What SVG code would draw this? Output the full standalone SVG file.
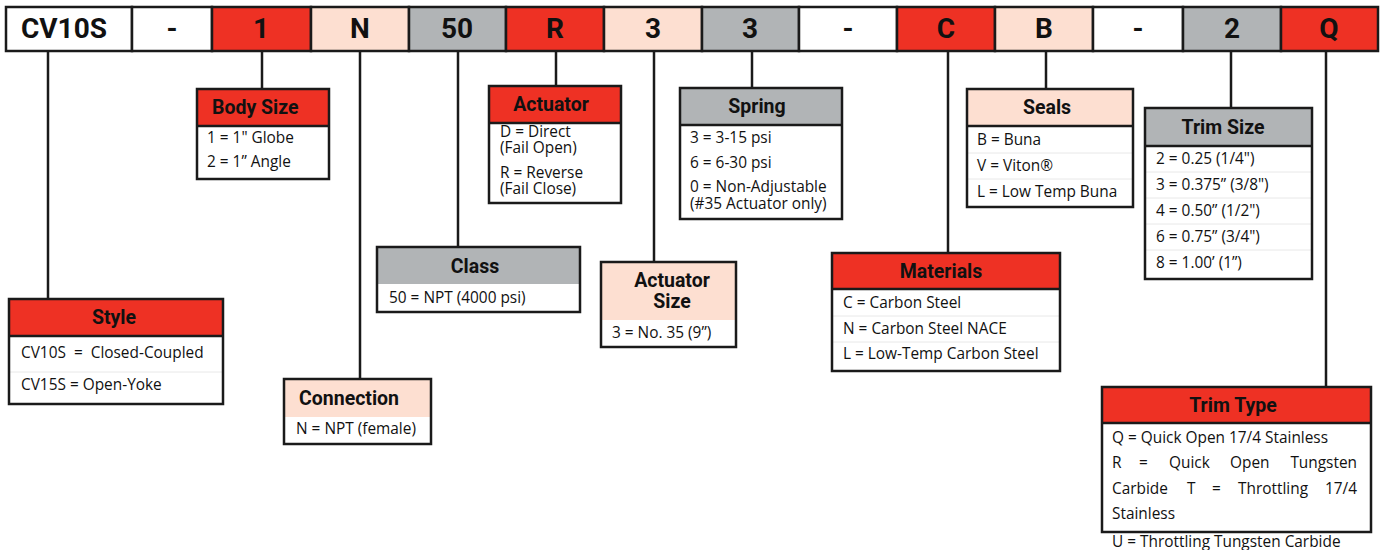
<svg xmlns="http://www.w3.org/2000/svg" width="1380" height="550" viewBox="0 0 1380 550">
<style>
.red{fill:#EE3124}.peach{fill:#FDDFD1}.gray{fill:#B1B4B6}.white{fill:#fff}
.cell{stroke:#1a1a1a;stroke-width:2.5}
.frame{fill:none;stroke:#1a1a1a;stroke-width:2.5}
.div{stroke:#1a1a1a;stroke-width:2.5}
.faint{stroke:#e8e8e8;stroke-width:1}
.code{font-family:Roboto,"Liberation Sans",sans-serif;font-weight:700;font-size:28px;fill:#111;text-anchor:middle}
.hd{font-family:Roboto,"Liberation Sans",sans-serif;font-weight:700;font-size:19.5px;fill:#111}
.c{text-anchor:middle}
.t{font-family:"Open Sans","Noto Sans",sans-serif;font-size:15.4px;fill:#111}
.conn{stroke:#1a1a1a;stroke-width:2.5;fill:none}
</style>

<g id="code-bar">
<rect class="cell white" x="6" y="7" width="126" height="44"/>
<rect class="cell white" x="132" y="7" width="80" height="44"/>
<rect class="cell red" x="212" y="7" width="99" height="44"/>
<rect class="cell peach" x="311" y="7" width="98" height="44"/>
<rect class="cell gray" x="409" y="7" width="97" height="44"/>
<rect class="cell red" x="506" y="7" width="98" height="44"/>
<rect class="cell peach" x="604" y="7" width="98" height="44"/>
<rect class="cell gray" x="702" y="7" width="97" height="44"/>
<rect class="cell white" x="799" y="7" width="98" height="44"/>
<rect class="cell red" x="897" y="7" width="98" height="44"/>
<rect class="cell peach" x="995" y="7" width="98" height="44"/>
<rect class="cell white" x="1093" y="7" width="90" height="44"/>
<rect class="cell gray" x="1183" y="7" width="98" height="44"/>
<rect class="cell red" x="1281" y="7" width="97" height="44"/>
<text class="code" x="64" y="38">CV10S</text>
<text class="code" x="172" y="38">-</text>
<text class="code" x="261" y="38">1</text>
<text class="code" x="360" y="38">N</text>
<text class="code" x="457" y="38">50</text>
<text class="code" x="555" y="38">R</text>
<text class="code" x="653" y="38">3</text>
<text class="code" x="750" y="38">3</text>
<text class="code" x="848" y="38">-</text>
<text class="code" x="946" y="38">C</text>
<text class="code" x="1044" y="38">B</text>
<text class="code" x="1138" y="38">-</text>
<text class="code" x="1232" y="38">2</text>
<text class="code" x="1329" y="38">Q</text>
</g>

<g id="connectors">
<line class="conn" x1="48" y1="51" x2="48" y2="299"/>
<line class="conn" x1="262" y1="51" x2="262" y2="89"/>
<line class="conn" x1="360" y1="51" x2="360" y2="379"/>
<line class="conn" x1="458" y1="51" x2="458" y2="247"/>
<line class="conn" x1="556" y1="51" x2="556" y2="86"/>
<line class="conn" x1="654" y1="51" x2="654" y2="262"/>
<line class="conn" x1="752" y1="51" x2="752" y2="88"/>
<line class="conn" x1="948" y1="51" x2="948" y2="253"/>
<line class="conn" x1="1046" y1="51" x2="1046" y2="89"/>
<line class="conn" x1="1231" y1="51" x2="1231" y2="108"/>
<line class="conn" x1="1326" y1="51" x2="1326" y2="387"/>
</g>

<g id="body-size">
<rect class="white" x="197" y="89" width="132" height="90"/>
<rect class="red" x="197" y="89" width="132" height="37"/>
<line class="div" x1="197" y1="126" x2="329" y2="126"/>
<rect class="frame" x="197" y="89" width="132" height="90"/>
<text class="hd" x="212" y="114">Body Size</text>
<text class="t" x="207" y="143">1 = 1" Globe</text>
<text class="t" x="207" y="167">2 = 1” Angle</text>
</g>

<g id="actuator">
<rect class="white" x="489" y="86" width="132" height="117"/>
<rect class="red" x="489" y="86" width="132" height="37"/>
<line class="div" x1="489" y1="123" x2="621" y2="123"/>
<rect class="frame" x="489" y="86" width="132" height="117"/>
<text class="hd c" x="551" y="111">Actuator</text>
<text class="t"><tspan x="500" y="137">D = Direct</tspan><tspan x="500" y="153">(Fail Open)</tspan></text>
<text class="t"><tspan x="500" y="178">R = Reverse</tspan><tspan x="500" y="194">(Fail Close)</tspan></text>
</g>

<g id="spring">
<rect class="white" x="680" y="88" width="162" height="131"/>
<rect class="gray" x="680" y="88" width="162" height="37"/>
<line class="div" x1="680" y1="125" x2="842" y2="125"/>
<rect class="frame" x="680" y="88" width="162" height="131"/>
<text class="hd c" x="757" y="113">Spring</text>
<text class="t" x="690" y="143">3 = 3-15 psi</text>
<text class="t" x="690" y="168">6 = 6-30 psi</text>
<text class="t"><tspan x="690" y="192">0 = Non-Adjustable</tspan><tspan x="690" y="209">(#35 Actuator only)</tspan></text>
</g>

<g id="seals">
<rect class="white" x="967" y="89" width="166" height="118"/>
<rect class="peach" x="967" y="89" width="166" height="37"/>
<line class="div" x1="967" y1="126" x2="1133" y2="126"/>
<line class="faint" x1="968" y1="153" x2="1132" y2="153"/>
<line class="faint" x1="968" y1="179" x2="1132" y2="179"/>
<rect class="frame" x="967" y="89" width="166" height="118"/>
<text class="hd c" x="1047" y="114">Seals</text>
<text class="t" x="977" y="145">B = Buna</text>
<text class="t" x="977" y="171">V = Viton®</text>
<text class="t" x="977" y="197">L = Low Temp Buna</text>
</g>

<g id="trim-size">
<rect class="white" x="1145" y="108" width="167" height="171"/>
<rect class="gray" x="1145" y="108" width="167" height="38"/>
<line class="div" x1="1145" y1="146" x2="1312" y2="146"/>
<line class="faint" x1="1146" y1="172" x2="1311" y2="172"/>
<line class="faint" x1="1146" y1="198" x2="1311" y2="198"/>
<line class="faint" x1="1146" y1="224" x2="1311" y2="224"/>
<line class="faint" x1="1146" y1="250" x2="1311" y2="250"/>
<rect class="frame" x="1145" y="108" width="167" height="171"/>
<text class="hd c" x="1223" y="134">Trim Size</text>
<text class="t" x="1156" y="164">2 = 0.25 (1/4")</text>
<text class="t" x="1156" y="190">3 = 0.375” (3/8")</text>
<text class="t" x="1156" y="216">4 = 0.50” (1/2")</text>
<text class="t" x="1156" y="242">6 = 0.75” (3/4")</text>
<text class="t" x="1156" y="268">8 = 1.00’ (1”)</text>
</g>

<g id="style">
<rect class="white" x="9" y="299" width="214" height="105"/>
<rect class="red" x="9" y="299" width="214" height="37"/>
<line class="div" x1="9" y1="336" x2="223" y2="336"/>
<line class="faint" x1="10" y1="372" x2="222" y2="372"/>
<rect class="frame" x="9" y="299" width="214" height="105"/>
<text class="hd c" x="114" y="324">Style</text>
<text class="t" x="21" y="358" xml:space="preserve">CV10S  =  Closed-Coupled</text>
<text class="t" x="21" y="390">CV15S = Open-Yoke</text>
</g>

<g id="connection">
<rect class="white" x="284" y="379" width="147" height="65"/>
<rect class="peach" x="284" y="379" width="147" height="38"/>
<rect class="frame" x="284" y="379" width="147" height="65"/>
<text class="hd" x="299" y="405">Connection</text>
<text class="t" x="296" y="434">N = NPT (female)</text>
</g>

<g id="class">
<rect class="white" x="377" y="247" width="203" height="65"/>
<rect class="gray" x="377" y="247" width="203" height="37"/>
<rect class="frame" x="377" y="247" width="203" height="65"/>
<text class="hd c" x="475" y="273">Class</text>
<text class="t" x="389" y="303">50 = NPT (4000 psi)</text>
</g>

<g id="actuator-size">
<rect class="white" x="601" y="262" width="135" height="85"/>
<rect class="peach" x="601" y="262" width="135" height="58"/>
<rect class="frame" x="601" y="262" width="135" height="85"/>
<text class="hd c"><tspan x="672" y="287">Actuator</tspan><tspan x="672" y="308">Size</tspan></text>
<text class="t" x="612" y="338">3 = No. 35 (9”)</text>
</g>

<g id="materials">
<rect class="white" x="832" y="253" width="228" height="118"/>
<rect class="red" x="832" y="253" width="228" height="36"/>
<line class="div" x1="832" y1="289" x2="1060" y2="289"/>
<line class="faint" x1="833" y1="316" x2="1059" y2="316"/>
<line class="faint" x1="833" y1="342" x2="1059" y2="342"/>
<rect class="frame" x="832" y="253" width="228" height="118"/>
<text class="hd c" x="941" y="278">Materials</text>
<text class="t" x="843" y="308">C = Carbon Steel</text>
<text class="t" x="843" y="334">N = Carbon Steel NACE</text>
<text class="t" x="843" y="359">L = Low-Temp Carbon Steel</text>
</g>

<g id="trim-type">
<rect class="white" x="1102" y="387" width="269" height="145"/>
<rect class="red" x="1102" y="387" width="269" height="36"/>
<line class="div" x1="1102" y1="423" x2="1371" y2="423"/>
<rect class="frame" x="1102" y="387" width="269" height="145"/>
<text class="hd c" x="1233" y="412">Trim Type</text>
<text class="t" x="1112" y="443">Q = Quick Open 17/4 Stainless</text>
<text class="t" y="468"><tspan x="1112">R</tspan><tspan x="1139">=</tspan><tspan x="1169">Quick</tspan><tspan x="1230">Open</tspan><tspan x="1357" text-anchor="end">Tungsten</tspan></text>
<text class="t" y="494"><tspan x="1112">Carbide</tspan><tspan x="1187">T</tspan><tspan x="1212">=</tspan><tspan x="1238">Throttling</tspan><tspan x="1357" text-anchor="end">17/4</tspan></text>
<text class="t" x="1112" y="519">Stainless</text>
<text class="t" x="1112" y="547">U = Throttling Tungsten Carbide</text>
</g>
</svg>
